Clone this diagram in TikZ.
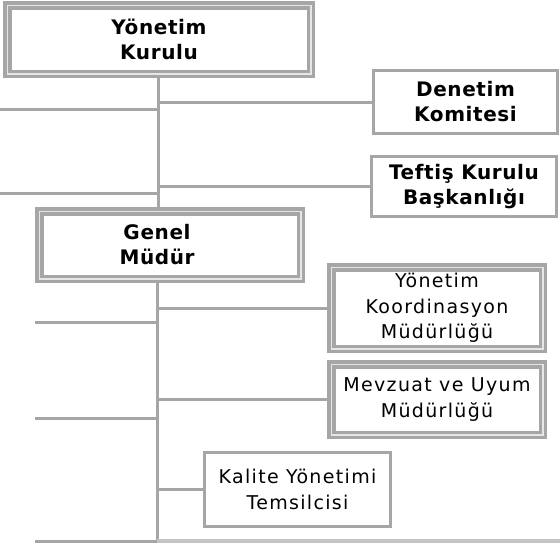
\documentclass[tikz,border=0pt]{standalone}
\usepackage{fontspec}
\setmainfont{DejaVu Sans}
\newfontfamily\regf[LetterSpace=7]{DejaVu Sans}
\newfontfamily\boldf[LetterSpace=3]{DejaVu Sans}
\definecolor{lg}{HTML}{A6A6A6}
\definecolor{lgl}{HTML}{C4C4C4}
\definecolor{gap}{HTML}{E6E6E6}
\begin{document}
\begin{tikzpicture}[x=1pt,y=-1pt,
  conn/.style={draw=lg, line width=3pt},
  sbox/.style={draw=lg, line width=3pt, fill=white, inner sep=0pt, align=center, font=\boldf\bfseries\fontsize{20}{25}\selectfont},
  dbox/.style={draw=lg, line width=3.5pt, double=gap, double distance=1.5pt, fill=white, inner sep=0pt, align=center},
  bt/.style={font=\boldf\bfseries\fontsize{20}{25}\selectfont, align=center},
  rt/.style={font=\regf\fontsize{19}{25.5}\selectfont, align=center}]
\fill[white] (0,0) rectangle (560,546);
\useasboundingbox (0,0) rectangle (560,546);
% boxes
\node[dbox, bt, minimum width=303.5pt, minimum height=68.5pt] (yk) at (159,39.5) {Yönetim\\Kurulu};
\node[sbox, minimum width=184pt, minimum height=63pt] (dk) at (465.5,102) {Denetim\\Komitesi};
\node[sbox, minimum width=185pt, minimum height=60pt] (tk) at (464,186.5) {Teftiş Kurulu\\Başkanlığı};
\node[dbox, minimum width=261.5pt, minimum height=67.5pt] (gm) at (170,245) {};
\node[bt] (gmt) at (157,245) {Genel\\Müdür};
\node[dbox, rt, minimum width=211.5pt, minimum height=81.5pt] (ykm) at (437,308) {Yönetim\\Koordinasyon\\Müdürlüğü};
\node[dbox, rt, minimum width=211.5pt, minimum height=70.5pt] (mv) at (437,399.5) {Mevzuat ve Uyum\\Müdürlüğü};
\node[sbox, rt, minimum width=186pt, minimum height=74pt] (kl) at (297.5,489.5) {Kalite Yönetimi\\Temsilcisi};
% coordinates
\coordinate (ta) at (158,0);
\coordinate (tb) at (157,0);
\coordinate (l1) at (0,109);
\coordinate (l2) at (0,193);
\coordinate (l3) at (35,322);
\coordinate (l4) at (35,418);
\coordinate (b1) at (35,541);
\coordinate (b2) at (560,541);
\coordinate (bend) at (157,542.5);
% upper trunk
\draw[conn] (ta |- yk.south) -- (ta |- gm.north);
\draw[conn] (l1) -- (l1 -| ta);
\draw[conn] (l2) -- (l2 -| ta);
\draw[conn] (ta |- dk.west) -- (dk.west);
\draw[conn] (ta |- tk.west) -- (tk.west);
% lower trunk
\draw[conn] (tb |- gm.south) -- (bend);
\draw[conn] (l3) -- (l3 -| tb);
\draw[conn] (l4) -- (l4 -| tb);
\draw[conn] (tb |- ykm.west) -- (ykm.west);
\draw[conn] (tb |- mv.west) -- (mv.west);
\draw[conn] (tb |- kl.west) -- (kl.west);
\draw[conn] (b1) -- (b1 -| tb);
\draw[draw=lgl, line width=4pt] (b1 -| tb) -- (b2);
\end{tikzpicture}
\end{document}
